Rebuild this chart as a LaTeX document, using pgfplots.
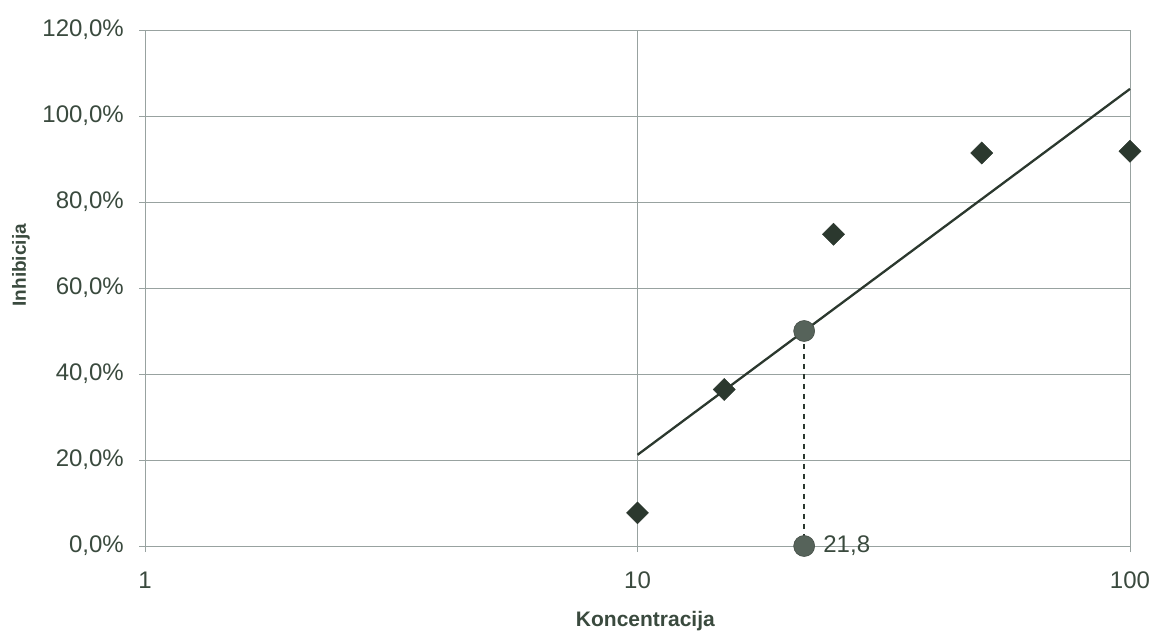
\documentclass[border=0pt]{standalone}
\usepackage{pgfplots}
\pgfplotsset{compat=1.18}
\usepackage{fontspec}
\setmainfont{Liberation Sans}
\definecolor{txt}{HTML}{3A4A3E}
\definecolor{mk}{HTML}{2B382E}
\definecolor{circ}{HTML}{56635A}
\definecolor{grd}{HTML}{98A2A0}
\begin{document}
\begin{tikzpicture}
\path[use as bounding box] (-145pt,-86pt) rectangle (1011pt,546pt);
\begin{axis}[
  at={(0,0)}, anchor=south west,
  scale only axis, width=985pt, height=516pt,
  xmode=log, xmin=1, xmax=100, ymin=0, ymax=120,
  xtick={1,10,100}, xticklabels={1,10,100},
  ytick={0,20,40,60,80,100,120},
  yticklabels={{0,0\%},{20,0\%},{40,0\%},{60,0\%},{80,0\%},{100,0\%},{120,0\%}},
  xminorticks=false, yminorticks=false,
  grid=major,
  major grid style={draw=grd, line width=0.8pt},
  axis line style={draw=grd, line width=0.8pt},
  tick style={draw=grd, line width=0.8pt},
  tick align=outside, major tick length=6pt,
  xtick pos=bottom, ytick pos=left,
  every tick label/.append style={font=\fontsize{24}{28}\selectfont, text=txt},
  xticklabel style={inner sep=0pt, anchor=north, yshift=-20pt},
  yticklabel style={inner sep=0pt, anchor=east, xshift=-15pt},
  xlabel={Koncentracija},
  ylabel={Inhibicija},
  xlabel style={font=\fontsize{21}{25}\selectfont\bfseries, text=txt, at={(axis description cs:0.508,0)}, anchor=center, yshift=-75pt},
  ylabel style={font=\fontsize{19}{23}\selectfont\bfseries, text=txt, at={(axis description cs:-0.126,0.544)}, anchor=center},
  clip=false,
]
% trend line
\addplot[mk, line width=2.3pt, no marks] coordinates {(10,21.2) (100,106.3)};
% dotted drop line
\addplot[mk, line width=2.6pt, dash pattern=on 5pt off 5pt, no marks] coordinates {(21.8,47) (21.8,0)};
% data points
\addplot[only marks, mark=square*, mark size=7.8pt, mark options={rotate=45, fill=mk, draw=mk}] coordinates {
  (10,7.7) (15,36.4) (25,72.5) (50,91.4) (100,91.8)
};
% IC50 circles
\addplot[only marks, mark=*, mark size=10.5pt, mark options={fill=circ, draw=circ!80!black, line width=0.6pt}] coordinates {
  (21.8,50) (21.8,0)
};
\node[anchor=west, font=\fontsize{24}{28}\selectfont, text=txt, inner sep=0pt] at (axis cs:21.8,0) [xshift=19pt] {21,8};
\end{axis}
\end{tikzpicture}
\end{document}
